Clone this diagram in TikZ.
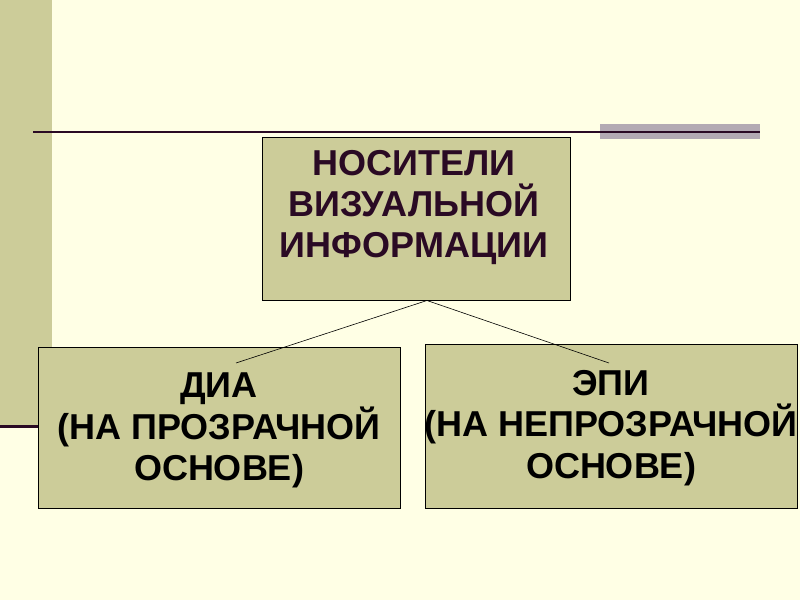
\documentclass[tikz,border=0pt]{standalone}
\usepackage{fontspec}
\setmainfont{Liberation Sans}
\definecolor{bgyellow}{RGB}{255,255,229}
\definecolor{khaki}{RGB}{204,204,153}
\definecolor{plum}{RGB}{42,10,36}
\definecolor{mauvegray}{RGB}{179,170,179}
\tikzset{
  panel/.style={draw=black,line width=1pt,fill=khaki,inner sep=0pt},
  toptext/.style={align=center,text=plum,inner sep=0pt,font=\fontsize{36}{41}\selectfont\bfseries},
  subtext/.style={align=center,text=black,inner sep=0pt,font=\fontsize{36}{41.5}\selectfont\bfseries},
}
\begin{document}
\begin{tikzpicture}[x=1pt,y=-1pt]
\fill[bgyellow] (0,0) rectangle (800,600);
\useasboundingbox (0,0) rectangle (800,600);
\fill[khaki] (0,0) rectangle (52,427);
\fill[mauvegray] (600,124) rectangle (760,139);
\draw[plum,line width=2.5pt] (33,132) -- (760,132);
\draw[plum,line width=3pt] (0,426) -- (40,426);
\node[panel,minimum width=308pt,minimum height=163pt] (carriers) at (416,218.5) {};
\node[panel,minimum width=362pt,minimum height=161pt] (dia) at (219,427.5) {};
\node[panel,minimum width=372pt,minimum height=164pt] (epi) at (611,426) {};
\coordinate (apex) at ([xshift=11pt]carriers.south);
\coordinate (diaend) at (236,363);
\coordinate (epiend) at (609,363);
\draw[line width=0.6pt] (apex) -- (diaend);
\draw[line width=0.6pt] (apex) -- (epiend);
\node[toptext] (carrierslbl) at (414,208) {НОСИТЕЛИ\\ВИЗУАЛЬНОЙ\\ИНФОРМАЦИИ};
\node[subtext] (dialbl) at ([yshift=-3pt]dia.center) {ДИА\\(НА ПРОЗРАЧНОЙ\\ОСНОВЕ)};
\node[subtext] (epilbl) at ([yshift=-2pt]epi.center) {ЭПИ\\(НА НЕПРОЗРАЧНОЙ\\ОСНОВЕ)};
\end{tikzpicture}
\end{document}
